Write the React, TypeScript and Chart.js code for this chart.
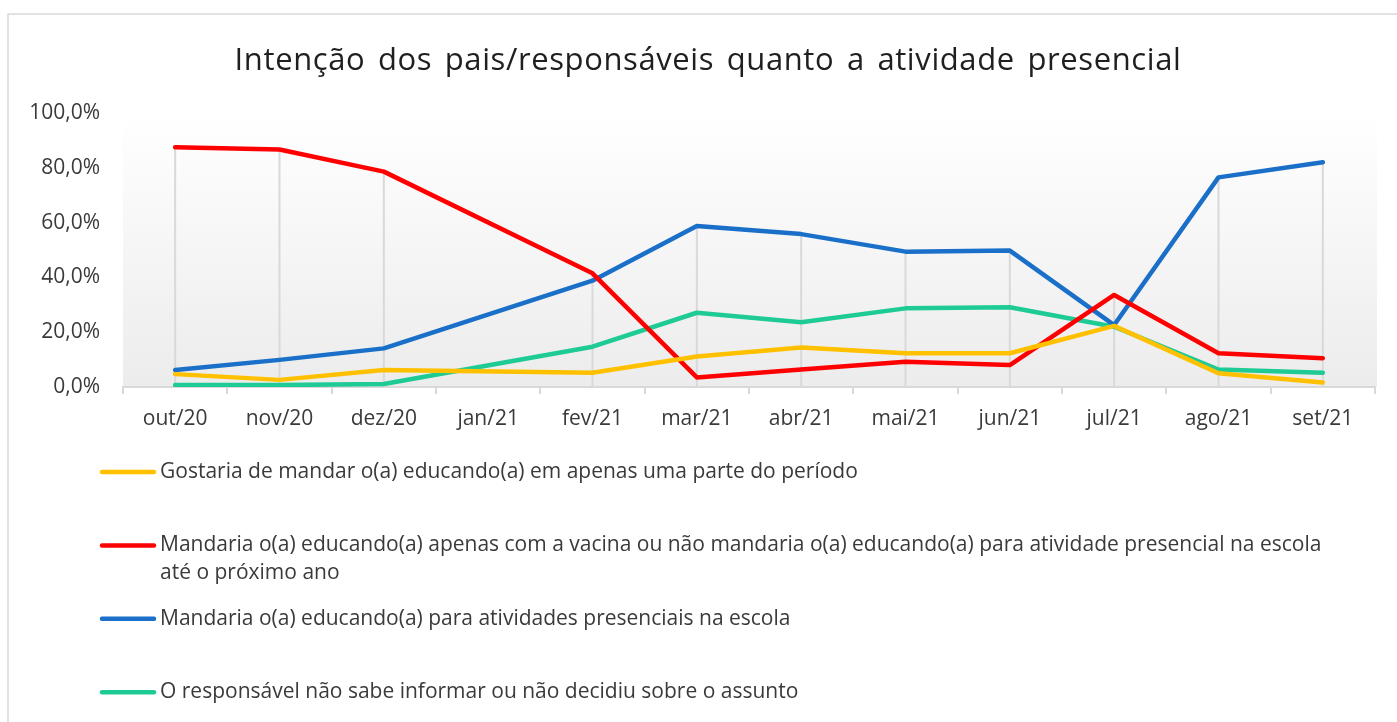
import React, { useEffect, useRef } from "react";
import { Chart, registerables } from "chart.js";

Chart.register(...registerables);

const categories = ["out/20", "nov/20", "dez/20", "jan/21", "fev/21", "mar/21", "abr/21", "mai/21", "jun/21", "jul/21", "ago/21", "set/21"];
const parcial = [4.7, 2.6, 6.2, null, 5.2, 11.1, 14.4, 12.3, 12.3, 22.3, 5.0, 1.6];
const vacina = [87.5, 86.7, 78.6, null, 41.5, 3.5, 6.4, 9.2, 8.0, 33.6, 12.3, 10.5];
const presencial = [6.2, 9.9, 14.1, null, 38.8, 58.8, 55.8, 49.4, 49.8, 22.6, 76.5, 82.0];
const naoSabe = [0.7, 0.7, 1.1, null, 14.7, 27.1, 23.6, 28.7, 29.1, 22.0, 6.4, 5.2];

const seriesLabels = [
  "Gostaria de mandar o(a) educando(a) em apenas uma parte do período",
  "Mandaria o(a) educando(a) apenas com a vacina ou não mandaria o(a) educando(a) para atividade presencial na escola até o próximo ano",
  "Mandaria o(a) educando(a) para atividades presenciais na escola",
  "O responsável não sabe informar ou não decidiu sobre o assunto",
];
const seriesColors = ["#FFC000", "#FF0000", "#1A6FC8", "#1ECB95"];
const titleText = "Intenção dos pais/responsáveis quanto a atividade presencial";

const FONT = "'Open Sans', 'Noto Sans', sans-serif";
const TEXT = "#3a3a3a";

const framePlugin = {
  id: "frame",
  beforeDraw(chart: any) {
    const ctx = chart.ctx;
    const a = chart.chartArea;
    ctx.save();
    ctx.fillStyle = "#ffffff";
    ctx.fillRect(0, 0, chart.width, chart.height);
    ctx.strokeStyle = "#d9d9d9";
    ctx.lineWidth = 1.5;
    ctx.beginPath();
    ctx.moveTo(8, chart.height + 5);
    ctx.lineTo(8, 14);
    ctx.lineTo(chart.width + 5, 14);
    ctx.stroke();
    const g = ctx.createLinearGradient(0, a.top, 0, a.bottom);
    g.addColorStop(0, "rgba(255,255,255,1)");
    g.addColorStop(1, "#ececec");
    ctx.fillStyle = g;
    ctx.fillRect(a.left, a.top, a.right - a.left + 2, a.bottom - a.top);
    ctx.fillStyle = "#1f1f1f";
    ctx.font = `31px ${FONT}`;
    try { (ctx as any).letterSpacing = "0.6px"; (ctx as any).wordSpacing = "4px"; } catch (e) {}
    ctx.textAlign = "center";
    ctx.textBaseline = "middle";
    ctx.fillText(titleText, 708, 61);
    ctx.restore();
  },
};

const dropLinesPlugin = {
  id: "dropLines",
  beforeDatasetsDraw(chart: any) {
    const ctx = chart.ctx;
    const xs = chart.scales.x;
    const ys = chart.scales.y;
    ctx.save();
    ctx.strokeStyle = "#d9d9d9";
    ctx.lineWidth = 2;
    chart.data.labels.forEach((_: any, i: number) => {
      const vals = chart.data.datasets.map((d: any) => d.data[i]).filter((v: any) => v !== null && v !== undefined);
      if (!vals.length) return;
      const mx = Math.max(...vals);
      const x = xs.getPixelForValue(i);
      ctx.beginPath();
      ctx.moveTo(x, ys.getPixelForValue(mx));
      ctx.lineTo(x, ys.getPixelForValue(0));
      ctx.stroke();
    });
    ctx.restore();
  },
};

const legendPlugin = {
  id: "customLegend",
  afterDraw(chart: any) {
    const ctx = chart.ctx;
    ctx.save();
    ctx.font = `21px ${FONT}`;
    ctx.textBaseline = "middle";
    ctx.textAlign = "left";
    const maxW = 1190;
    chart.data.datasets.forEach((ds: any, i: number) => {
      const y = 472 + i * 73.4;
      ctx.strokeStyle = ds.borderColor;
      ctx.lineWidth = 4.5;
      ctx.lineCap = "round";
      ctx.beginPath();
      ctx.moveTo(102, y);
      ctx.lineTo(154, y);
      ctx.stroke();
      const words = String(ds.label).split(" ");
      const lines: string[] = [];
      let cur = "";
      words.forEach((w) => {
        const t = cur ? cur + " " + w : w;
        if (ctx.measureText(t).width > maxW && cur) {
          lines.push(cur);
          cur = w;
        } else cur = t;
      });
      if (cur) lines.push(cur);
      ctx.fillStyle = TEXT;
      lines.forEach((ln, k) => ctx.fillText(ln, 160, y + k * 28));
    });
    ctx.restore();
  },
};

export default function App() {
  const ref = useRef<HTMLCanvasElement>(null);
  useEffect(() => {
    const sets = [parcial, vacina, presencial, naoSabe];
    const chart = new Chart(ref.current as HTMLCanvasElement, {
      type: "line",
      data: {
        labels: categories,
        datasets: sets.map((d, i) => ({
          label: seriesLabels[i],
          data: d,
          borderColor: seriesColors[i],
          backgroundColor: seriesColors[i],
          borderWidth: 4.5,
          pointRadius: 0,
          tension: 0,
          spanGaps: true,
          borderCapStyle: "round",
          borderJoinStyle: "round",
        })),
      },
      options: {
        responsive: false,
        animation: false,
        layout: { padding: { top: 113, right: 22, left: 0, bottom: 0 } },
        plugins: { legend: { display: false }, title: { display: false }, tooltip: { enabled: false } },
        scales: {
          x: {
            offset: true,
            afterFit: (s: any) => { s.height = 335; },
            grid: { offset: true, drawOnChartArea: false, drawTicks: true, tickLength: 7, color: "#d9d9d9", lineWidth: 2 },
            border: { display: true, color: "#d9d9d9", width: 2 },
            ticks: { color: TEXT, font: { family: FONT, size: 21 }, padding: 12, maxRotation: 0 },
          },
          y: {
            min: 0,
            max: 100,
            afterFit: (s: any) => { s.width = 123; },
            grid: { display: false, drawTicks: false },
            border: { display: false },
            ticks: {
              stepSize: 20,
              color: TEXT,
              padding: 23,
              font: { family: FONT, size: 21 },
              callback: (v: any) => Number(v).toFixed(1).replace(".", ",") + "%",
            },
          },
        },
      },
      plugins: [framePlugin, dropLinesPlugin, legendPlugin],
    } as any);
    return () => chart.destroy();
  }, []);
  return (
    <div style={{ position: "fixed", left: 0, top: 0, width: 1397, height: 722, background: "#fff" }}>
      <canvas ref={ref} width={1397} height={722} style={{ width: 1397, height: 722, display: "block" }} />
    </div>
  );
}
